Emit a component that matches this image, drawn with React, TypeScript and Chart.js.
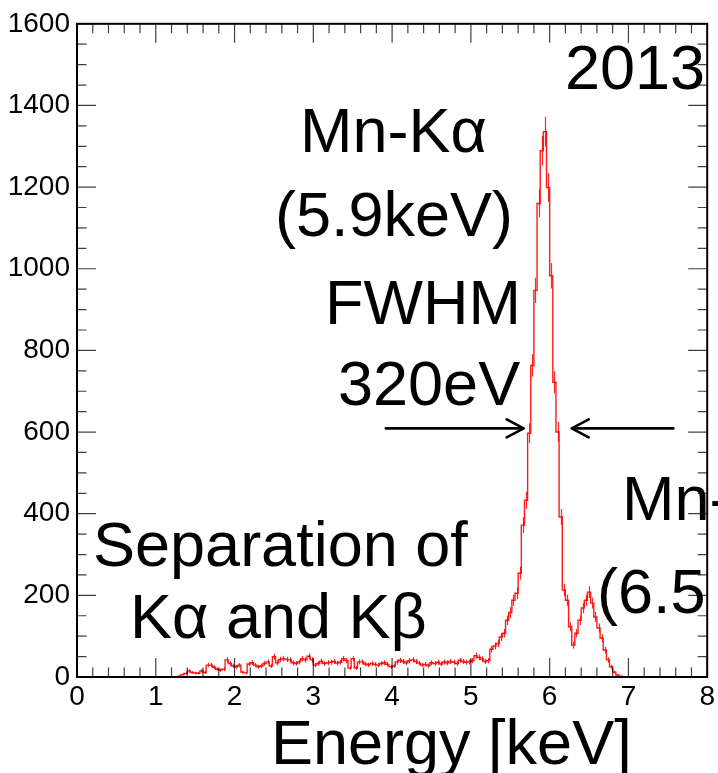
import React, { useEffect, useRef } from "react";
import { Chart, registerables } from "chart.js";

Chart.register(...registerables);

// ---- data ----
const BIN_WIDTH = 0.04; // keV per bin (200 bins, 0-8 keV)
const X_MIN = 0;
const X_MAX = 8;
const Y_MIN = 0;
const Y_MAX = 1600;
const X_TICK_STEP = 1;
const Y_TICK_STEP = 200;
const X_MINOR_STEP = 0.2;
const Y_MINOR_STEP = 50;

const COUNTS: number[] = [
  // 0.00 - 1.28 keV
  0, 0, 0, 0, 0, 0, 0, 0, 0, 0, 0, 0, 0, 0, 0, 0,
  0, 0, 0, 0, 0, 0, 0, 0, 0, 0, 0, 0, 0, 0, 0, 0,
  // 1.28 - 3.20 keV
  2, 6, 9, 15, 11, 10, 9, 15, 11, 29,
  29, 24, 19, 17, 19, 42, 33, 27, 25, 29,
  12, 10, 32, 35, 29, 25, 27, 33, 37, 27,
  50, 35, 43, 45, 43, 42, 35, 33, 37, 45,
  42, 51, 42, 29, 33, 39, 33, 35,
  // 3.20 - 5.36 keV
  36, 38, 34, 36, 45, 40, 22, 45, 22, 37,
  37, 32, 30, 33, 31, 29, 33, 35, 31, 25,
  27, 37, 41, 38, 35, 40, 42, 38, 34, 29,
  31, 28, 35, 33, 36, 32, 37, 35, 38, 36,
  33, 41, 38, 36, 37, 40, 52, 48, 44, 38,
  40, 68, 76, 82,
  // 5.36 - 7.00 keV (Mn-Ka and Mn-Kb)
  98, 107, 139, 158, 188, 205, 254, 372, 433, 597,
  763, 947, 1160, 1289, 1336, 1199, 983, 722, 600, 392,
  213, 188, 123, 78, 107, 139, 169, 188, 208, 181,
  147, 120, 95, 66, 42, 25, 12, 5, 2, 1,
  1,
  // 7.00 - 8.00 keV
  0, 0, 0, 0, 0, 0, 0, 0, 0, 0, 0, 0, 0, 0, 0, 0, 0, 0, 0, 0, 0, 0, 0, 0, 0,
];

const TEXT_LABELS = [
  { text: "2013", x: 565, y: 89 },
  { text: "Mn-Kα", x: 300, y: 152 },
  { text: "(5.9keV)", x: 275, y: 236 },
  { text: "FWHM", x: 325, y: 324 },
  { text: "320eV", x: 338, y: 405 },
  { text: "Mn-Kβ", x: 622, y: 520 },
  { text: "(6.5 keV)", x: 597, y: 613 },
  { text: "Separation of", x: 93, y: 566 },
  { text: "Kα and Kβ", x: 130, y: 638 },
];

// arrows in data units (keV, counts)
const ARROWS = [
  { x0: 3.92, x1: 5.67, y: 609 },
  { x0: 7.57, x1: 6.28, y: 609 },
];

const X_TITLE = "Energy [keV]";

const FONT_FAMILY = "'Liberation Sans', Arial, Helvetica, sans-serif";

const framePlugin = {
  id: "rootFrame",
  afterDatasetsDraw(chart: any) {
    const { ctx, chartArea, scales } = chart;
    const xs = scales.x;
    const ys = scales.y;
    const { left, right, top, bottom } = chartArea;
    ctx.save();
    // error bars sqrt(N)
    ctx.strokeStyle = "rgba(255,0,0,0.85)";
    ctx.lineWidth = 1.2;
    ctx.beginPath();
    COUNTS.forEach((c, k) => {
      if (c <= 0) return;
      const e = Math.sqrt(c);
      const px = Math.round(xs.getPixelForValue((k + 0.5) * BIN_WIDTH)) + 0.5;
      ctx.moveTo(px, ys.getPixelForValue(c - e));
      ctx.lineTo(px, ys.getPixelForValue(c + e));
    });
    ctx.stroke();

    // frame
    ctx.strokeStyle = "#000";
    ctx.lineWidth = 2;
    ctx.strokeRect(left, top, right - left, bottom - top);

    // inner ticks
    ctx.strokeStyle = "rgba(0,0,0,0.75)";
    ctx.lineWidth = 1.2;
    ctx.beginPath();
    const nx = Math.round((X_MAX - X_MIN) / X_MINOR_STEP);
    for (let i = 0; i <= nx; i++) {
      const v = X_MIN + i * X_MINOR_STEP;
      const major = Math.abs(v / X_TICK_STEP - Math.round(v / X_TICK_STEP)) < 1e-6;
      const len = major ? 19 : 9.5;
      const px = xs.getPixelForValue(v);
      ctx.moveTo(px, bottom);
      ctx.lineTo(px, bottom - len);
      ctx.moveTo(px, top);
      ctx.lineTo(px, top + len);
    }
    const ny = Math.round((Y_MAX - Y_MIN) / Y_MINOR_STEP);
    for (let i = 0; i <= ny; i++) {
      const v = Y_MIN + i * Y_MINOR_STEP;
      const major = v % Y_TICK_STEP === 0;
      const len = major ? 19 : 9.5;
      const py = ys.getPixelForValue(v);
      ctx.moveTo(left, py);
      ctx.lineTo(left + len, py);
      ctx.moveTo(right, py);
      ctx.lineTo(right - len, py);
    }
    ctx.stroke();
    ctx.restore();
  },
  afterDraw(chart: any) {
    const { ctx, scales } = chart;
    const xs = scales.x;
    const ys = scales.y;
    ctx.save();
    ctx.fillStyle = "#000";
    ctx.font = `63px ${FONT_FAMILY}`;
    ctx.textAlign = "left";
    ctx.textBaseline = "alphabetic";
    TEXT_LABELS.forEach((l) => ctx.fillText(l.text, l.x, l.y));
    ctx.fillText(X_TITLE, 271, 764);

    // arrows
    ctx.strokeStyle = "#000";
    ctx.lineWidth = 2.6;
    ctx.lineCap = "round";
    ctx.lineJoin = "round";
    ARROWS.forEach((a) => {
      const x0 = xs.getPixelForValue(a.x0);
      const x1 = xs.getPixelForValue(a.x1);
      const y = ys.getPixelForValue(a.y);
      const dir = x1 > x0 ? 1 : -1;
      ctx.beginPath();
      ctx.moveTo(x0, y);
      ctx.lineTo(x1, y);
      ctx.moveTo(x1 - dir * 17, y - 9);
      ctx.lineTo(x1, y);
      ctx.lineTo(x1 - dir * 17, y + 9);
      ctx.stroke();
    });
    ctx.restore();
  },
};

export default function App() {
  const canvasRef = useRef<HTMLCanvasElement | null>(null);

  useEffect(() => {
    if (!canvasRef.current) return;
    const points = COUNTS.map((c, k) => ({ x: X_MIN + k * BIN_WIDTH, y: c }));
    points.push({ x: X_MAX, y: COUNTS[COUNTS.length - 1] });

    const tickFont = { family: FONT_FAMILY, size: 28, lineHeight: 1.2 };

    const chart = new Chart(canvasRef.current, {
      type: "line",
      data: {
        datasets: [
          {
            data: points,
            borderColor: "rgba(255,0,0,0.9)",
            borderWidth: 1.4,
            pointRadius: 0,
            stepped: "before",
            fill: false,
            tension: 0,
          },
        ],
      },
      options: {
        responsive: false,
        animation: false,
        devicePixelRatio: 1,
        layout: { padding: { top: 23, right: 9, left: 0, bottom: 0 } },
        plugins: {
          legend: { display: false },
          tooltip: { enabled: false },
        },
        events: [],
        scales: {
          x: {
            type: "linear",
            min: X_MIN,
            max: X_MAX,
            afterFit: (s: any) => {
              s.height = 96;
            },
            ticks: {
              stepSize: X_TICK_STEP,
              color: "#000",
              font: tickFont,
              padding: 3,
              maxRotation: 0,
              autoSkip: false,
              callback: (v: any) => String(v),
            },
            grid: { display: false, drawTicks: false },
            border: { display: false },
          },
          y: {
            type: "linear",
            min: Y_MIN,
            max: Y_MAX,
            afterFit: (s: any) => {
              s.width = 77;
            },
            ticks: {
              stepSize: Y_TICK_STEP,
              color: "#000",
              font: tickFont,
              padding: 7,
              callback: (v: any) => String(v),
            },
            grid: { display: false, drawTicks: false },
            border: { display: false },
          },
        },
      },
      plugins: [framePlugin],
    });
    return () => chart.destroy();
  }, []);

  return (
    <div
      style={{
        position: "fixed",
        left: 0,
        top: 0,
        width: 718,
        height: 773,
        background: "#fff",
      }}
    >
      <canvas ref={canvasRef} width={718} height={773} style={{ display: "block" }} />
    </div>
  );
}
